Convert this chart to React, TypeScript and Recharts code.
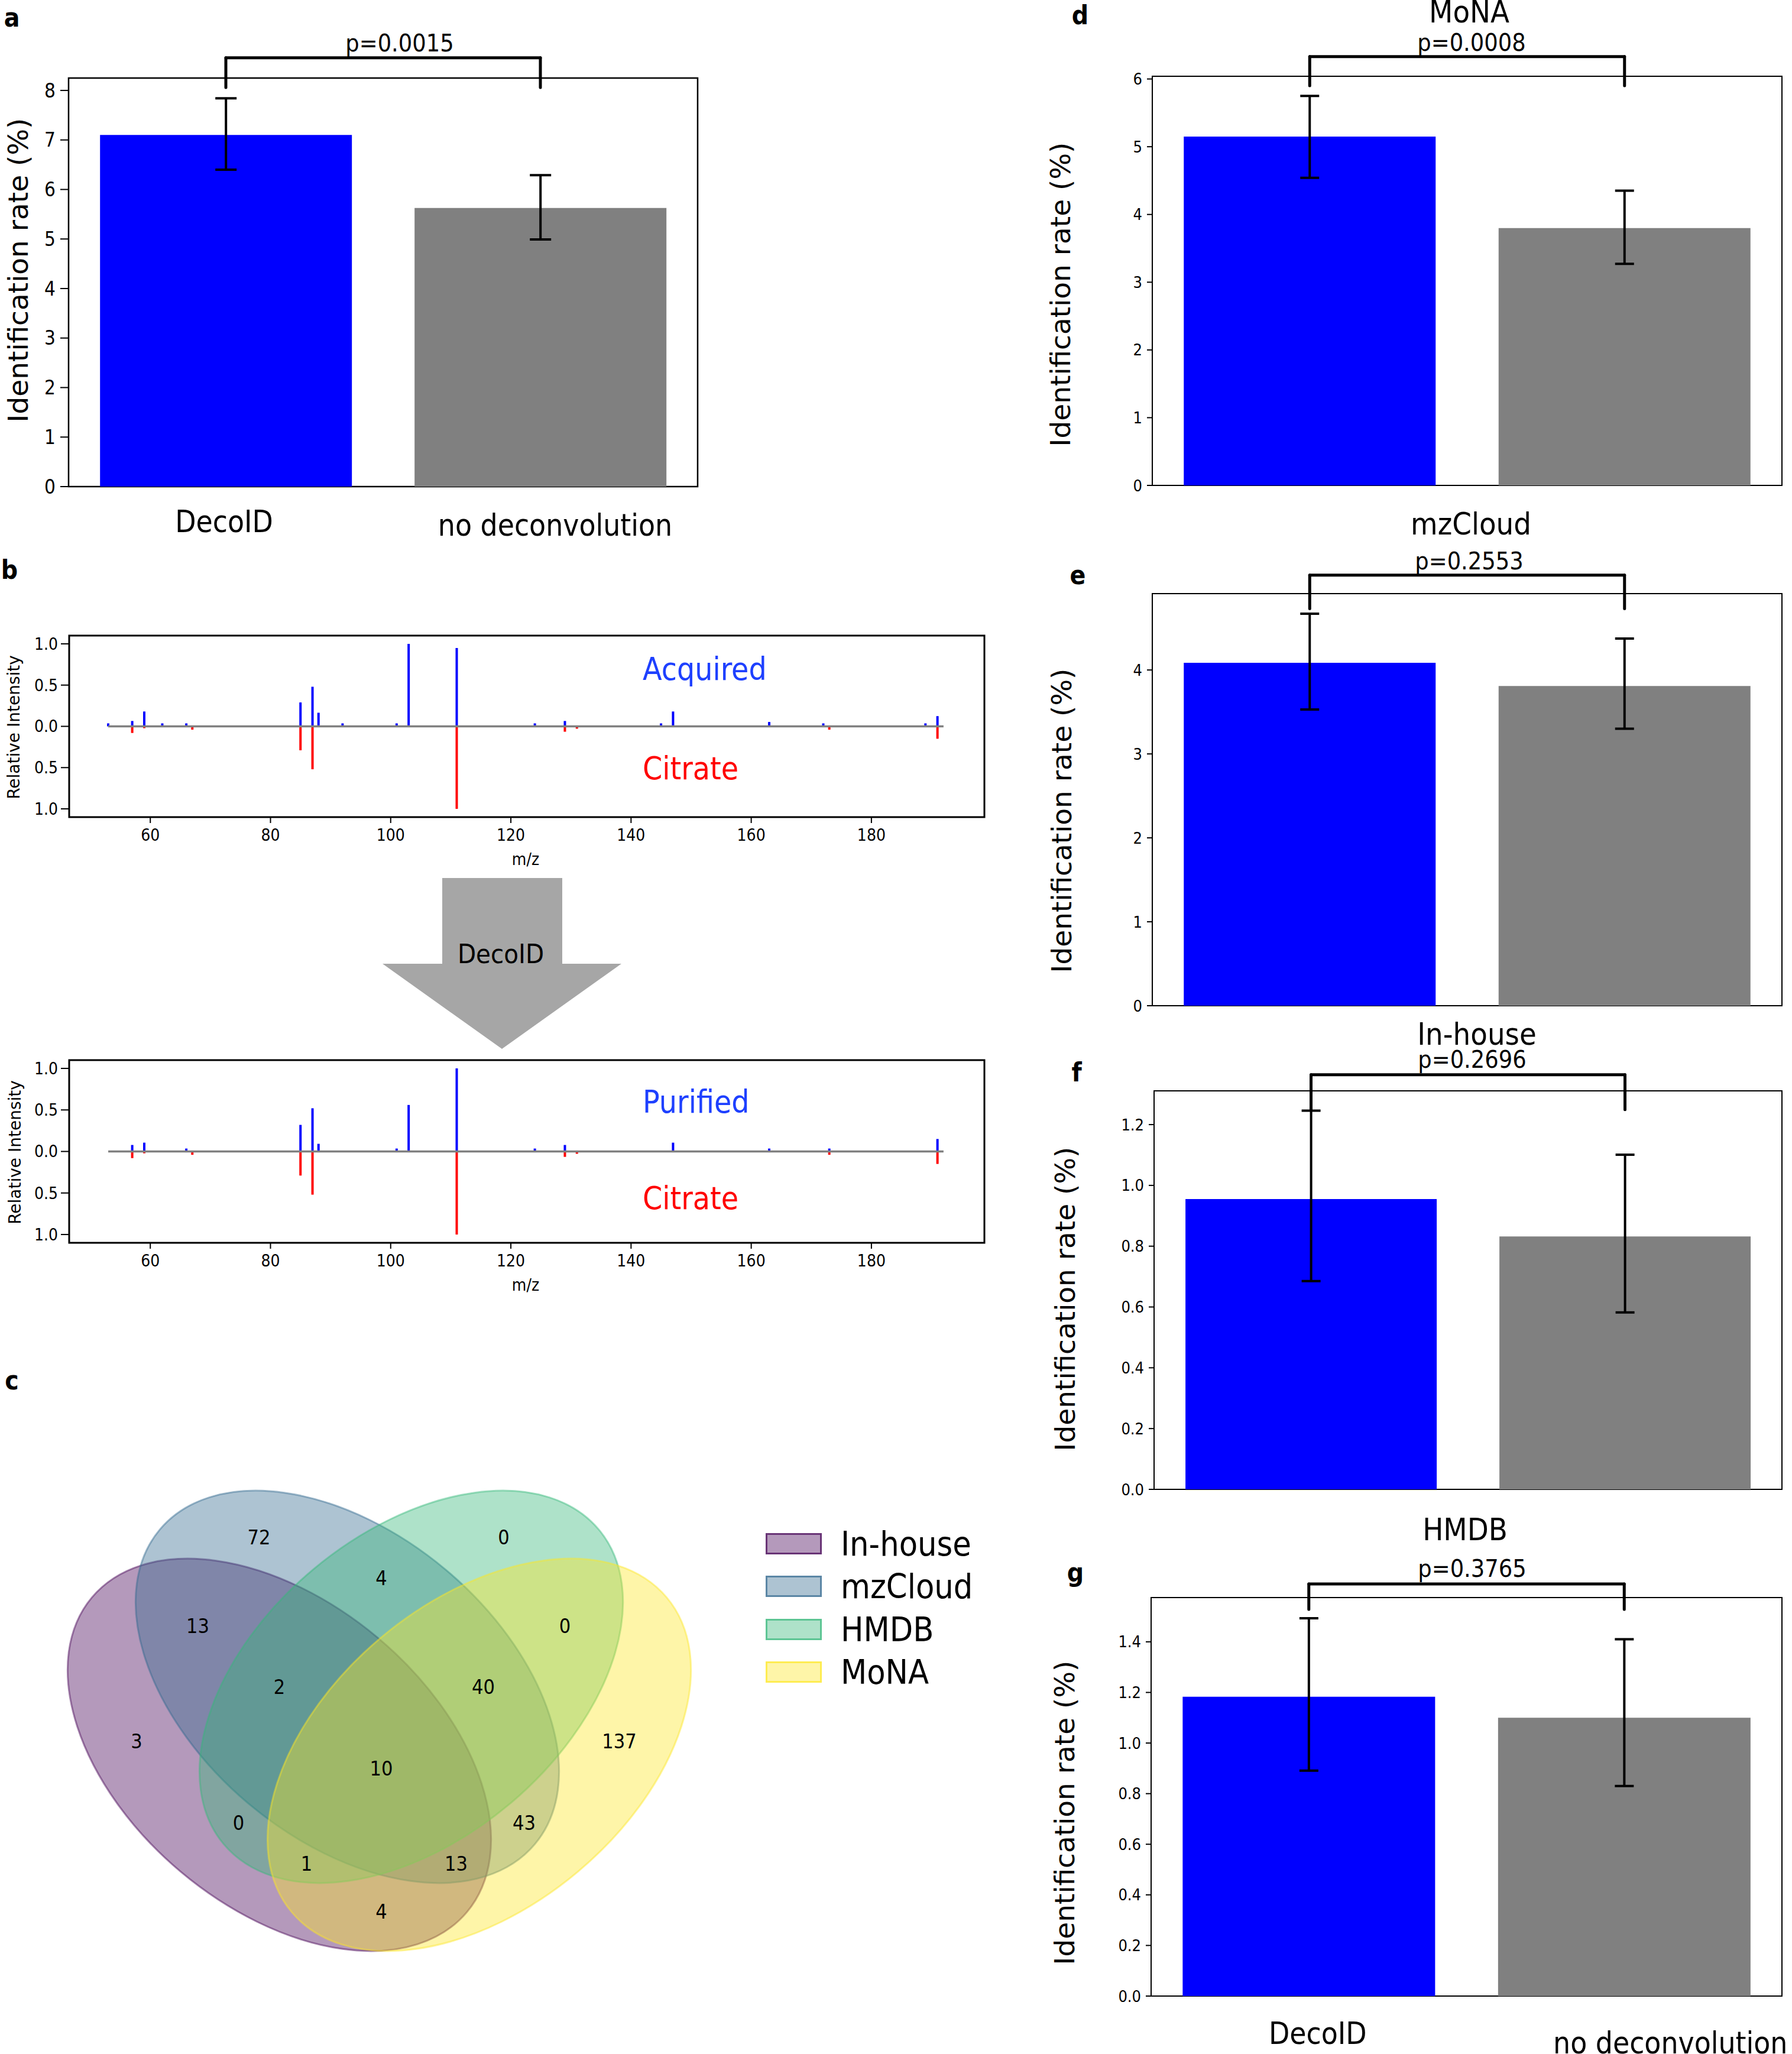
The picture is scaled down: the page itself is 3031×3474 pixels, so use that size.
import React from "react";
import {
  BarChart,
  Bar,
  Cell,
  XAxis,
  YAxis,
  ErrorBar,
  ReferenceLine,
  ReferenceArea,
  ScatterChart,
  Scatter,
} from "recharts";

const COND =
  '"DejaVu Sans Condensed", "Liberation Sans Narrow", "DejaVu Sans", sans-serif';
const SANS = '"DejaVu Sans", sans-serif';
const BAR_COLORS = ["#0000ff", "#808080"];

// ---- panels a, d-g: identification rate (%) ----
const methods = ["DecoID", "no deconvolution"];

const allRate = [7.1, 5.625];
const allLow = [6.4, 4.99];
const allHigh = [7.84, 6.29];

const monaRate = [5.15, 3.8];
const monaLow = [4.54, 3.27];
const monaHigh = [5.75, 4.35];

const mzcloudRate = [4.085, 3.81];
const mzcloudLow = [3.53, 3.3];
const mzcloudHigh = [4.67, 4.375];

const inhouseRate = [0.955, 0.832];
const inhouseLow = [0.685, 0.582];
const inhouseHigh = [1.246, 1.101];

const hmdbRate = [1.183, 1.1];
const hmdbLow = [0.891, 0.83];
const hmdbHigh = [1.493, 1.41];

// significance bracket [foot, top] in axis units
const allBracket = [8.06, 8.66];
const monaBracket = [5.9, 6.33];
const mzcloudBracket = [4.73, 5.13];
const inhouseBracket = [1.249, 1.364];
const hmdbBracket = [1.528, 1.629];

const allTicks = [0, 1, 2, 3, 4, 5, 6, 7, 8];
const monaTicks = [0, 1, 2, 3, 4, 5, 6];
const mzcloudTicks = [0, 1, 2, 3, 4];
const inhouseTicks = [0, 0.2, 0.4, 0.6, 0.8, 1.0, 1.2];
const hmdbTicks = [0, 0.2, 0.4, 0.6, 0.8, 1.0, 1.2, 1.4];

// ---- panel b: spectra ----
const acquiredMz = [53, 57, 59, 62, 66, 85, 87, 88, 92, 101, 103, 111, 124, 129, 145, 147, 163, 172, 189, 191];
const acquiredInt = [0.036, 0.065, 0.18, 0.036, 0.036, 0.29, 0.48, 0.165, 0.036, 0.036, 1.0, 0.95, 0.036, 0.065, 0.036, 0.18, 0.053, 0.036, 0.036, 0.124];
const purifiedMz = [57, 59, 66, 85, 87, 88, 101, 103, 111, 124, 129, 147, 163, 173, 191];
const purifiedInt = [0.078, 0.106, 0.035, 0.32, 0.52, 0.092, 0.035, 0.56, 1.0, 0.035, 0.078, 0.106, 0.035, 0.035, 0.15];
const citrateMz = [57, 59, 67, 85, 87, 111, 129, 131, 173, 191];
const citrateInt = [0.08, 0.022, 0.04, 0.29, 0.52, 1.0, 0.065, 0.028, 0.04, 0.15];
const mzTicks = [60, 80, 100, 120, 140, 160, 180];
const intensityTicks = [-1, -0.5, 0, 0.5, 1];
const baselineMz = [53, 192];

// ---- panel c: venn ----
const vennSets = ["In-house", "mzCloud", "HMDB", "MoNA"];
const vennColors = ["#440154", "#31688e", "#35b779", "#fde725"];
const vennRegions = ["1000", "0100", "0010", "0001", "1100", "1010", "1001", "0110", "0101", "0011", "1110", "1101", "1011", "0111", "1111"];
const vennCounts = [3, 72, 0, 137, 13, 0, 4, 4, 43, 0, 2, 13, 1, 40, 10];

// pyvenn 4-set layout (unit square)
const VENN_ELLIPSES = [
  { x: 0.35, y: 0.4, w: 0.72, h: 0.45, angle: 140 },
  { x: 0.45, y: 0.5, w: 0.72, h: 0.45, angle: 140 },
  { x: 0.544, y: 0.5, w: 0.72, h: 0.45, angle: 40 },
  { x: 0.644, y: 0.4, w: 0.72, h: 0.45, angle: 40 },
];
const VENN_TEXT: Record<string, [number, number]> = {
  "0001": [0.85, 0.42], "0010": [0.68, 0.72], "0011": [0.77, 0.59],
  "0100": [0.32, 0.72], "0101": [0.71, 0.3], "0110": [0.5, 0.66],
  "0111": [0.65, 0.5], "1000": [0.14, 0.42], "1001": [0.5, 0.17],
  "1010": [0.29, 0.3], "1011": [0.39, 0.24], "1100": [0.23, 0.59],
  "1101": [0.61, 0.24], "1110": [0.35, 0.5], "1111": [0.5, 0.38],
};
const VENN_UNIT = 1150;

type Frame = { l: number; t: number; r: number; b: number };

function Label({
  x, y, size, text, color = "#000", family = COND, weight = 400,
  align = "center", vertical = false,
}: any) {
  const tx = align === "center" ? "-50%" : "0";
  return (
    <div
      style={{
        position: "absolute",
        left: x,
        top: y,
        transform: `translate(${tx}, -50%)${vertical ? " rotate(-90deg)" : ""}`,
        fontSize: size,
        fontFamily: family,
        fontWeight: weight,
        color,
        lineHeight: 1,
        whiteSpace: "nowrap",
      }}
    >
      {text}
    </div>
  );
}

function methodTick(shift: number[][]) {
  return (p: any) => {
    const [dx, dy] = shift[p.index] || [0, 0];
    return (
      <text
        x={p.x + dx}
        y={p.y + dy}
        textAnchor="middle"
        dominantBaseline="central"
        fontFamily={COND}
        fontSize={51}
        fill="#000"
      >
        {p.payload.value}
      </text>
    );
  };
}

function RatePanel({
  frame, rate, low, high, yMax, ticks, bracket, decimals = 0,
  tickFont = 27, tickLen = 9, capWidth = 16, frameWidth = 2, xShift,
}: any) {
  const padL = 130;
  const padT = 140;
  const padR = 20;
  const xH = xShift ? 110 : 0;
  const padB = xShift ? 130 : 20;
  const yW = 100;
  const rows = methods.map((m, i) => ({
    method: m,
    rate: rate[i],
    err: [rate[i] - low[i], high[i] - rate[i]],
  }));
  const w = frame.r - frame.l + padL + padR;
  const h = frame.b - frame.t + padT + padB;
  const seg = { stroke: "#000", strokeWidth: 5, strokeLinecap: "round" as const, ifOverflow: "visible" as const };
  return (
    <div style={{ position: "absolute", left: frame.l - padL, top: frame.t - padT }}>
      <BarChart
        width={w}
        height={h}
        data={rows}
        barCategoryGap="10%"
        margin={{ top: padT, right: padR, left: padL - yW, bottom: padB - xH }}
      >
        <XAxis
          dataKey="method"
          hide={!xShift}
          height={xH}
          axisLine={false}
          tickLine={false}
          tickSize={0}
          tickMargin={0}
          interval={0}
          tick={xShift ? methodTick(xShift) : false}
        />
        <YAxis
          width={yW}
          type="number"
          domain={[0, yMax]}
          ticks={ticks}
          allowDataOverflow
          axisLine={false}
          tickLine={{ stroke: "#000", strokeWidth: 2 }}
          tickSize={tickLen}
          tickMargin={8}
          tick={{ fontSize: tickFont, fontFamily: COND, fill: "#000" }}
          tickFormatter={(v: number) => v.toFixed(decimals)}
        />
        <Bar dataKey="rate" isAnimationActive={false}>
          {rows.map((_, i) => (
            <Cell key={i} fill={BAR_COLORS[i]} />
          ))}
          <ErrorBar dataKey="err" width={capWidth} stroke="#000" strokeWidth={4} />
        </Bar>
        <ReferenceArea y1={0} y2={yMax} fill="none" stroke="#000" strokeWidth={frameWidth} ifOverflow="visible" />
        <ReferenceLine segment={[{ x: methods[0], y: bracket[0] }, { x: methods[0], y: bracket[1] }]} {...seg} />
        <ReferenceLine segment={[{ x: methods[0], y: bracket[1] }, { x: methods[1], y: bracket[1] }]} {...seg} />
        <ReferenceLine segment={[{ x: methods[1], y: bracket[1] }, { x: methods[1], y: bracket[0] }]} {...seg} />
      </BarChart>
    </div>
  );
}

function spectrumRows(mz: number[], inten: number[]) {
  const all = Array.from(new Set([...mz, ...citrateMz])).sort((a, b) => a - b);
  return all.map((m) => {
    const i = mz.indexOf(m);
    const j = citrateMz.indexOf(m);
    return { mz: m, up: i >= 0 ? inten[i] : 0, down: j >= 0 ? -citrateInt[j] : 0 };
  });
}

function SpectrumPanel({ frame, rows }: { frame: Frame; rows: any[] }) {
  const padL = 110;
  const padT = 10;
  const padR = 10;
  const padB = 60;
  const yW = 100;
  const xH = 60;
  const w = frame.r - frame.l + padL + padR;
  const h = frame.b - frame.t + padT + padB;
  return (
    <div style={{ position: "absolute", left: frame.l - padL, top: frame.t - padT }}>
      <BarChart
        width={w}
        height={h}
        data={rows}
        stackOffset="sign"
        margin={{ top: padT, right: padR, left: padL - yW, bottom: padB - xH }}
      >
        <XAxis
          type="number"
          dataKey="mz"
          domain={[46.5, 198.8]}
          ticks={mzTicks}
          allowDataOverflow
          height={xH}
          axisLine={false}
          tickLine={{ stroke: "#000", strokeWidth: 2 }}
          tickSize={10}
          tickMargin={10}
          tick={{ fontSize: 28, fontFamily: COND, fill: "#000" }}
        />
        <YAxis
          type="number"
          width={yW}
          domain={[-1.1, 1.1]}
          ticks={intensityTicks}
          allowDataOverflow
          axisLine={false}
          tickLine={{ stroke: "#000", strokeWidth: 2 }}
          tickSize={14}
          tickMargin={5}
          tick={{ fontSize: 28, fontFamily: COND, fill: "#000" }}
          tickFormatter={(v: number) => Math.abs(v).toFixed(1)}
        />
        <Bar dataKey="up" stackId="s" fill="#0000ff" barSize={4} isAnimationActive={false} />
        <Bar dataKey="down" stackId="s" fill="#ff0000" barSize={4} isAnimationActive={false} />
        <ReferenceLine
          segment={[{ x: baselineMz[0], y: 0 }, { x: baselineMz[1], y: 0 }]}
          stroke="#808080"
          strokeWidth={3.5}
          ifOverflow="visible"
        />
        <ReferenceArea y1={-1.1} y2={1.1} fill="none" stroke="#000" strokeWidth={3} ifOverflow="visible" />
      </BarChart>
    </div>
  );
}

const EllipseShape = (p: any) => {
  const d = p.payload || p;
  return (
    <ellipse
      cx={p.cx}
      cy={p.cy}
      rx={(d.w / 2) * VENN_UNIT}
      ry={(d.h / 2) * VENN_UNIT}
      transform={`rotate(${-d.angle} ${p.cx} ${p.cy})`}
      fill={d.color}
      fillOpacity={0.4}
      stroke={d.color}
      strokeOpacity={0.45}
      strokeWidth={3}
    />
  );
};

const CountShape = (p: any) => {
  const d = p.payload || p;
  return (
    <text x={p.cx} y={p.cy} textAnchor="middle" dominantBaseline="central" fontFamily={COND} fontSize={34} fill="#000">
      {d.count}
    </text>
  );
};

function VennPanel() {
  const ellipses = vennSets.map((name, i) => ({ name, color: vennColors[i], ...VENN_ELLIPSES[i] }));
  const counts = vennRegions.map((r, i) => ({ region: r, count: vennCounts[i], x: VENN_TEXT[r][0], y: VENN_TEXT[r][1] }));
  return (
    <div style={{ position: "absolute", left: 70, top: 3428 - VENN_UNIT }}>
      <ScatterChart width={VENN_UNIT} height={VENN_UNIT} margin={{ top: 0, right: 0, bottom: 0, left: 0 }}>
        <XAxis type="number" dataKey="x" domain={[0, 1]} hide height={0} />
        <YAxis type="number" dataKey="y" domain={[0, 1]} hide width={0} />
        <Scatter data={ellipses} shape={EllipseShape} isAnimationActive={false} />
        <Scatter data={counts} shape={CountShape} isAnimationActive={false} />
      </ScatterChart>
    </div>
  );
}

function VennLegend() {
  const rowsY = [2611, 2683, 2756, 2828];
  return (
    <>
      {vennSets.map((name, i) => (
        <React.Fragment key={name}>
          <div
            style={{
              position: "absolute",
              left: 1295,
              top: rowsY[i] - 18,
              width: 95,
              height: 36,
              boxSizing: "border-box",
              background: vennColors[i] + "66",
              border: `3px solid ${vennColors[i]}aa`,
            }}
          />
          <Label x={1422} y={rowsY[i]} size={57} text={name} align="start" />
        </React.Fragment>
      ))}
    </>
  );
}

function DecoArrow() {
  return (
    <svg style={{ position: "absolute", left: 0, top: 0 }} width={1200} height={1800}>
      <polygon
        points="748,1485 951,1485 951,1630 1051,1630 849,1774 647,1630 748,1630"
        fill="#a6a6a6"
      />
    </svg>
  );
}

export default function App() {
  const yTitle = "Identification rate (%)";
  return (
    <div
      style={{
        position: "absolute",
        left: 0,
        top: 0,
        width: 3031,
        height: 3474,
        background: "#fff",
        overflow: "hidden",
      }}
    >
      {/* a */}
      <RatePanel
        frame={{ l: 116, t: 132, r: 1180, b: 823 }}
        rate={allRate}
        low={allLow}
        high={allHigh}
        yMax={8.25}
        ticks={allTicks}
        bracket={allBracket}
        tickFont={33}
        tickLen={14}
        capWidth={18}
        frameWidth={2.5}
        xShift={[[-3, 59], [25, 65]]}
      />
      <Label x={20} y={30} size={44} weight={700} text="a" />
      <Label x={676} y={73} size={41} text="p=0.0015" />
      <Label x={30} y={457} size={47} family={SANS} text={yTitle} vertical />

      {/* b */}
      <Label x={16} y={964} size={44} weight={700} text="b" />
      <SpectrumPanel frame={{ l: 117, t: 1075, r: 1665, b: 1382 }} rows={spectrumRows(acquiredMz, acquiredInt)} />
      <Label x={24} y={1230} size={28} family={SANS} text="Relative Intensity" vertical />
      <Label x={889} y={1454} size={28} text="m/z" />
      <Label x={1087} y={1131} size={53} text="Acquired" color="#1e40ff" align="start" />
      <Label x={1087} y={1299} size={53} text="Citrate" color="#ff0000" align="start" />
      <DecoArrow />
      <Label x={847} y={1613} size={45} text="DecoID" />
      <SpectrumPanel frame={{ l: 117, t: 1793, r: 1665, b: 2102 }} rows={spectrumRows(purifiedMz, purifiedInt)} />
      <Label x={26} y={1949} size={28} family={SANS} text="Relative Intensity" vertical />
      <Label x={889} y={2174} size={28} text="m/z" />
      <Label x={1087} y={1863} size={53} text="Purified" color="#1e40ff" align="start" />
      <Label x={1087} y={2026} size={53} text="Citrate" color="#ff0000" align="start" />

      {/* c */}
      <Label x={20} y={2335} size={44} weight={700} text="c" />
      <VennPanel />
      <VennLegend />

      {/* d */}
      <RatePanel
        frame={{ l: 1949, t: 129, r: 3014, b: 821 }}
        rate={monaRate}
        low={monaLow}
        high={monaHigh}
        yMax={6.04}
        ticks={monaTicks}
        bracket={monaBracket}
      />
      <Label x={1827} y={26} size={44} weight={700} text="d" />
      <Label x={2485} y={20} size={52} text="MoNA" />
      <Label x={2489} y={72} size={41} text="p=0.0008" />
      <Label x={1793} y={498} size={47} family={SANS} text={yTitle} vertical />

      {/* e */}
      <RatePanel
        frame={{ l: 1949, t: 1004, r: 3014, b: 1701 }}
        rate={mzcloudRate}
        low={mzcloudLow}
        high={mzcloudHigh}
        yMax={4.91}
        ticks={mzcloudTicks}
        bracket={mzcloudBracket}
      />
      <Label x={1823} y={973} size={44} weight={700} text="e" />
      <Label x={2488} y={886} size={52} text="mzCloud" />
      <Label x={2485} y={949} size={41} text="p=0.2553" />
      <Label x={1795} y={1388} size={47} family={SANS} text={yTitle} vertical />

      {/* f */}
      <RatePanel
        frame={{ l: 1952, t: 1845, r: 3014, b: 2519 }}
        rate={inhouseRate}
        low={inhouseLow}
        high={inhouseHigh}
        yMax={1.311}
        ticks={inhouseTicks}
        bracket={inhouseBracket}
        decimals={1}
      />
      <Label x={1821} y={1814} size={44} weight={700} text="f" />
      <Label x={2498} y={1749} size={52} text="In-house" />
      <Label x={2490} y={1792} size={41} text="p=0.2696" />
      <Label x={1801} y={2197} size={47} family={SANS} text={yTitle} vertical />

      {/* g */}
      <RatePanel
        frame={{ l: 1947, t: 2702, r: 3014, b: 3376 }}
        rate={hmdbRate}
        low={hmdbLow}
        high={hmdbHigh}
        yMax={1.575}
        ticks={hmdbTicks}
        bracket={hmdbBracket}
        decimals={1}
        xShift={[[15, 63], [78, 79]]}
      />
      <Label x={1819} y={2660} size={44} weight={700} text="g" />
      <Label x={2478} y={2587} size={52} text="HMDB" />
      <Label x={2490} y={2653} size={41} text="p=0.3765" />
      <Label x={1800} y={3066} size={47} family={SANS} text={yTitle} vertical />
    </div>
  );
}
